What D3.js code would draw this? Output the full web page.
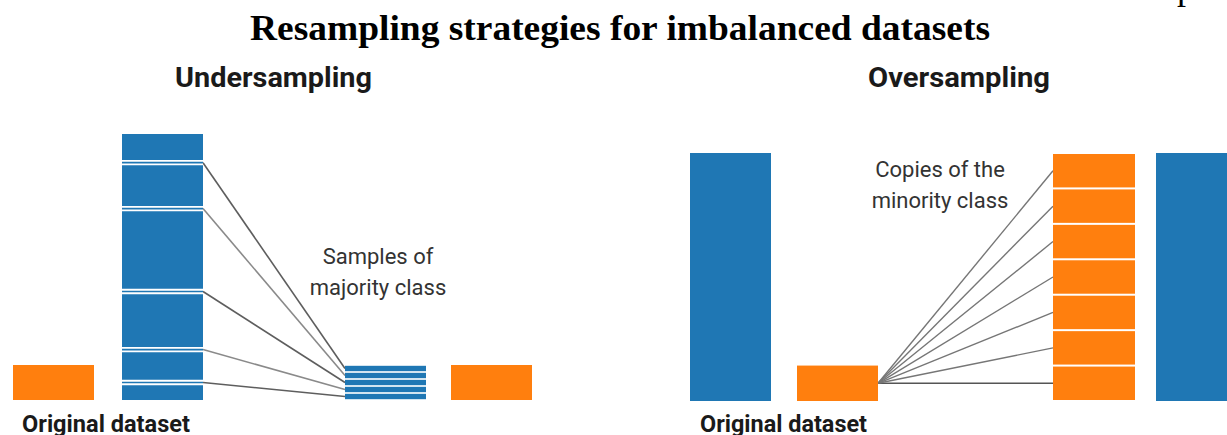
<!DOCTYPE html>
<html>
<head>
<meta charset="utf-8">
<script src="https://cdn.jsdelivr.net/npm/d3@7"></script>
<style>
  body { margin: 0; background: #fff; }
  svg { display: block; }
</style>
</head>
<body>
<div id="chart"></div>
<script>
// data: class sizes in "record" units
var underCols = ["minority", "majority", "samples", "minorityKept"];
var underCounts = [100, 760, 100, 100];
var underSampleAt = [678, 547, 310, 144, 50];   // where samples were drawn from the majority class
var underPieces = 5;

var overCols = ["majority", "minority", "copies", "majorityKept"];
var overCounts = [700, 100, 700, 700];
var overCopies = 7;

var classColor = { majority: "#1f77b4", majorityKept: "#1f77b4", samples: "#1f77b4",
                   minority: "#ff7f0e", minorityKept: "#ff7f0e", copies: "#ff7f0e" };

var title = "Resampling strategies for imbalanced datasets";
var panelTitles = ["Undersampling", "Oversampling"];
var noteUnder = ["Samples of", "majority class"];
var noteOver = ["Copies of the", "minority class"];
var footLabel = "Original dataset";

var W = 1227, H = 435, barW = 81;
var sans = "Roboto, 'Liberation Sans', Arial, sans-serif";

var svg = d3.select("#chart").append("svg")
  .attr("width", W)
  .attr("height", H);

svg.append("rect").attr("width", W).attr("height", H).attr("fill", "#fff");

// cut-off letter from the text above
svg.append("text")
  .attr("x", 1177).attr("y", -1)
  .style("font-family", "'Liberation Serif', 'Times New Roman', serif")
  .style("font-size", "36px")
  .text("p");

svg.append("text")
  .attr("x", 250).attr("y", 40)
  .attr("textLength", 740).attr("lengthAdjust", "spacingAndGlyphs")
  .style("font-family", "'Liberation Serif', 'Times New Roman', serif")
  .style("font-weight", "bold")
  .style("font-size", "36px")
  .text(title);

// ---------- Undersampling ----------
var xU = d3.scaleOrdinal().domain(underCols).range([13, 122, 345, 451]);
var yU = d3.scaleLinear().domain([0, 760]).range([400, 134]);
var gU = svg.append("g");

var majTop = underSampleAt.slice().sort(function(a, b) { return b - a; });
var pieceH = underCounts[2] / underPieces;

// lines from each sample to its piece in the new stack
gU.selectAll("line.link")
  .data(majTop)
  .enter().append("line")
    .attr("x1", xU("majority") + barW)
    .attr("y1", function(d) { return yU(d); })
    .attr("x2", xU("samples"))
    .attr("y2", function(d, i) { return yU(underCounts[2] - pieceH * i - pieceH / 2); })
    .attr("stroke", function(d, i) { return i % 2 ? "#8a8a8a" : "#5e5e5e"; })
    .attr("stroke-width", 1.6);

gU.selectAll("rect.bar")
  .data(["minority", "majority", "minorityKept"])
  .enter().append("rect")
    .attr("x", function(d) { return xU(d); })
    .attr("y", function(d) { return yU(underCounts[underCols.indexOf(d)]); })
    .attr("width", barW)
    .attr("height", function(d) { return yU(0) - yU(underCounts[underCols.indexOf(d)]); })
    .attr("fill", function(d) { return classColor[d]; });

// white cuts around each sampled slice
majTop.forEach(function(s) {
  [s + 5, s - 5].forEach(function(e) {
    gU.append("line")
      .attr("x1", xU("majority")).attr("x2", xU("majority") + barW)
      .attr("y1", yU(e)).attr("y2", yU(e))
      .attr("stroke", "#fff").attr("stroke-width", 1.8);
  });
});

gU.selectAll("rect.piece")
  .data(d3.range(underPieces))
  .enter().append("rect")
    .attr("x", xU("samples"))
    .attr("y", function(i) { return yU(pieceH * (i + 1)) + 0.8; })
    .attr("width", barW)
    .attr("height", function(i) { return yU(pieceH * i) - yU(pieceH * (i + 1)) - 1.6; })
    .attr("fill", classColor.samples);

// ---------- Oversampling ----------
var xO = d3.scaleOrdinal().domain(overCols).range([690, 797, 1053, 1156]);
var yO = d3.scaleLinear().domain([0, 700]).range([401, 153]);
var gO = svg.append("g");
var copyH = overCounts[2] / overCopies;

gO.selectAll("line.link")
  .data(d3.range(overCopies))
  .enter().append("line")
    .attr("x1", xO("minority") + barW)
    .attr("y1", yO(overCounts[1] / 2))
    .attr("x2", xO("copies"))
    .attr("y2", function(k) { return yO(copyH * k + copyH / 2); })
    .attr("stroke", function(k) { return k === 0 ? "#555" : "#767676"; })
    .attr("stroke-width", 1.4);

gO.selectAll("rect.bar")
  .data(["majority", "minority", "majorityKept"])
  .enter().append("rect")
    .attr("x", function(d) { return xO(d); })
    .attr("y", function(d) { return yO(overCounts[overCols.indexOf(d)]); })
    .attr("width", barW)
    .attr("height", function(d) { return yO(0) - yO(overCounts[overCols.indexOf(d)]); })
    .attr("fill", function(d) { return classColor[d]; });

gO.selectAll("rect.copy")
  .data(d3.range(overCopies))
  .enter().append("rect")
    .attr("x", xO("copies"))
    .attr("y", function(k) { return yO(copyH * (k + 1)) + 1; })
    .attr("width", barW + 1)
    .attr("height", function(k) { return yO(copyH * k) - yO(copyH * (k + 1)) - 2; })
    .attr("fill", classColor.copies);

// ---------- text ----------
var heads = [{ t: panelTitles[0], x: 175, len: 197 }, { t: panelTitles[1], x: 868, len: 182 }];
svg.selectAll("text.head")
  .data(heads)
  .enter().append("text")
    .attr("x", function(d) { return d.x; })
    .attr("y", 87)
    .attr("textLength", function(d) { return d.len; })
    .attr("lengthAdjust", "spacingAndGlyphs")
    .style("font-family", sans)
    .style("font-weight", "bold")
    .style("font-size", "28px")
    .attr("fill", "#1a1a1a")
    .text(function(d) { return d.t; });

// the reference crops these labels at the bottom edge too
svg.selectAll("text.foot")
  .data([{ x: 22, len: 168 }, { x: 700, len: 167 }])
  .enter().append("text")
    .attr("x", function(d) { return d.x; })
    .attr("y", 432)
    .attr("textLength", function(d) { return d.len; })
    .attr("lengthAdjust", "spacingAndGlyphs")
    .style("font-family", sans)
    .style("font-weight", "bold")
    .style("font-size", "23px")
    .attr("fill", "#1a1a1a")
    .text(footLabel);

function note(lines, cx, y0) {
  svg.append("g").selectAll("text")
    .data(lines)
    .enter().append("text")
      .attr("x", cx)
      .attr("y", function(d, i) { return y0 + i * 31; })
      .attr("text-anchor", "middle")
      .style("font-family", sans)
      .style("font-size", "22px")
      .attr("fill", "#333")
      .text(function(d) { return d; });
}
note(noteUnder, 378, 264);
note(noteOver, 940, 177);
</script>
</body>
</html>
